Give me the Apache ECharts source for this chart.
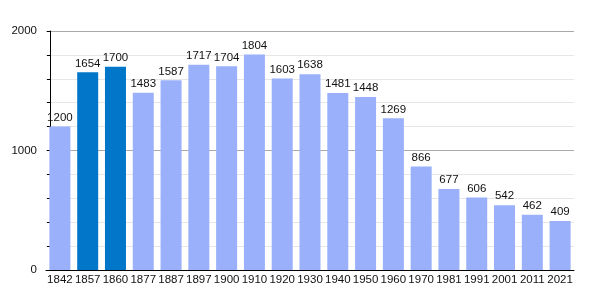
<!DOCTYPE html>
<html><head><meta charset="utf-8">
<script src="https://cdn.jsdelivr.net/npm/echarts@6/dist/echarts.min.js"></script>
<style>html,body{margin:0;padding:0;background:#fff}#c{width:600px;height:300px}</style>
</head><body><div id="c"></div>
<script>
const years = ['1842','1857','1860','1877','1887','1897','1900','1910','1920','1930','1940','1950','1960','1970','1981','1991','2001','2011','2021'];
const population = [1200,1654,1700,1483,1587,1717,1704,1804,1603,1638,1481,1448,1269,866,677,606,542,462,409];
const highlighted = ['1857','1860'];
const yTicks = [0,1000,2000];

const chart = echarts.init(document.getElementById('c'), null, {renderer:'canvas'});
const font = 'Liberation Sans';
chart.setOption({
  animation:false,
  grid:{left:46,right:26,top:31,bottom:30},
  xAxis:{type:'category',data:years,
    axisLine:{show:true,lineStyle:{color:'#000',width:1}},
    axisTick:{show:false},
    axisLabel:{color:'#111',fontSize:11.5,fontFamily:font,margin:4,interval:0}
  },
  yAxis:{type:'value',min:yTicks[0],max:yTicks[yTicks.length-1],interval:1000,offset:-4,
    axisLine:{show:true,lineStyle:{color:'#000',width:1}},
    axisTick:{show:true,length:3,lineStyle:{color:'#000'}},
    minorTick:{show:true,splitNumber:5,length:3,lineStyle:{color:'#000'}},
    splitLine:{show:true,lineStyle:{color:'#aaa',width:1}},
    minorSplitLine:{show:true,lineStyle:{color:'#e6e6e6',width:1}},
    axisLabel:{color:'#111',fontSize:11.5,fontFamily:font,margin:13,formatter:v=>String(v)}
  },
  series:[{type:'bar',
    data:population.map((v,i)=>({value:v,itemStyle:{color:highlighted.includes(years[i])?'#0277c9':'#9ab0fb'}})),
    barWidth:21,
    label:{show:true,position:'top',distance:3,color:'#111',fontSize:11.5,fontFamily:font}
  }]
});
</script></body></html>
